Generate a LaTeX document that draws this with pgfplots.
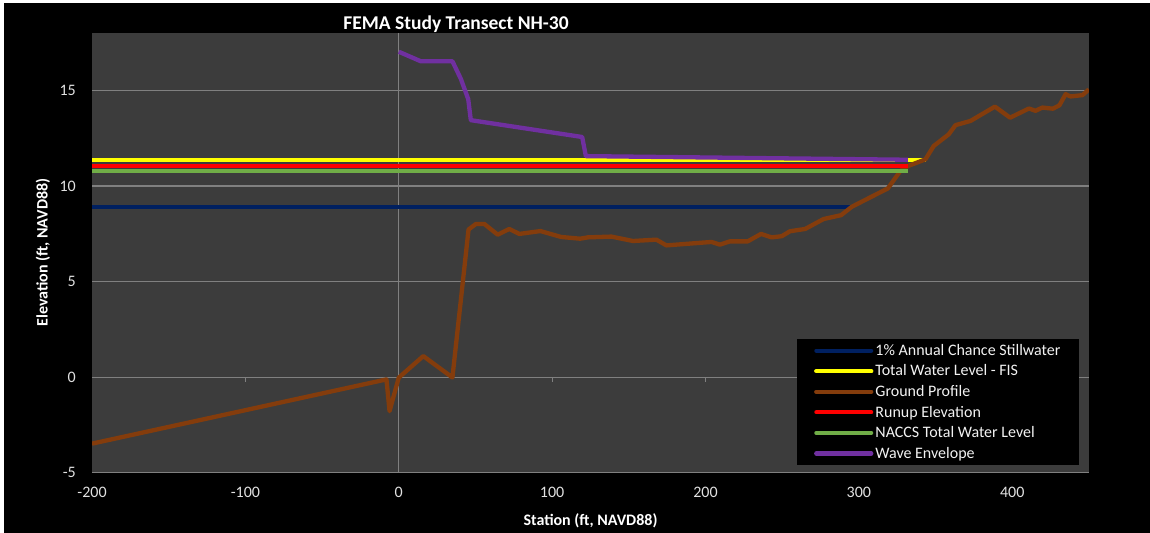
\documentclass[border=0pt]{standalone}
\usepackage{pgfplots}
\pgfplotsset{compat=1.18}
\usepackage{fontspec}
\setmainfont{Carlito}
\definecolor{plotbg}{RGB}{60,60,60}
\definecolor{gridc}{RGB}{128,128,128}
\definecolor{swc}{RGB}{0,32,96}
\definecolor{twl}{RGB}{255,255,0}
\definecolor{ground}{RGB}{132,60,12}
\definecolor{runup}{RGB}{255,0,0}
\definecolor{naccs}{RGB}{112,173,71}
\definecolor{wave}{RGB}{112,48,160}
\definecolor{ticktext}{RGB}{225,225,225}
\begin{document}
\begin{tikzpicture}
\fill[white] (0bp,0bp) rectangle (1150bp,533bp);
\fill[black] (4bp,0bp) rectangle (1150bp,530bp);
\begin{axis}[
  at={(92bp,60.3bp)}, anchor=south west,
  scale only axis, width=997bp, height=439.7bp,
  xmin=-200, xmax=450, ymin=-5, ymax=18,
  xtick={-200,-100,...,400}, ytick={-5,0,...,15},
  axis background/.style={fill=plotbg},
  axis line style={draw=none},
  major tick length=0pt,
  ymajorgrids, grid style={gridc, line width=1.2bp},
  /pgf/number format/assume math mode=true,
  ticklabel style={font=\fontsize{16bp}{19bp}\selectfont, text=ticktext, inner sep=0pt},
  xticklabel style={anchor=center, yshift=-19.3bp},
  yticklabel style={anchor=east, xshift=-16bp},
  no markers,
  legend cell align=left,
  legend style={at={(0.7071,0.304)}, anchor=north west, fill=black, draw=none,
    text=white!95!black, font=\fontsize{16bp}{19bp}\selectfont,
    inner xsep=17bp, inner ysep=3bp, row sep=4bp},
  legend image code/.code={\draw[#1, line cap=round] (0bp,0bp) -- (55bp,0bp);},
]
\draw[gridc, line width=1bp] (axis cs:0,-5) -- (axis cs:0,18);
\pgfplotsinvokeforeach{-100,100,200,300,400}{\draw[gridc, line width=1.2bp] (axis cs:#1,0) -- ++(0bp,-5bp);}
\addplot[swc, line width=4bp] coordinates {(-200,8.9) (294,8.9)};
\addlegendentry{1\% Annual Chance Stillwater}
\addplot[twl, line width=4.3bp] coordinates {(-200,11.34) (344,11.34)};
\addlegendentry{Total Water Level - FIS}
\addplot[ground, line width=4.3bp, line join=round] coordinates {
(-200,-3.48) (-8,-0.12) (-6,-1.78) (0,-0.03) (16,1.1) (35,-0.02) (45.5,7.72) (50.3,8.01)
(55.8,8.01) (64.5,7.45) (72.1,7.75) (78.6,7.49) (92.4,7.64) (105.9,7.33) (118.3,7.24)
(123.3,7.31) (138.6,7.35) (152.7,7.12) (168,7.19) (174.5,6.89) (203.9,7.07) (209.4,6.93)
(215.9,7.1) (227.5,7.1) (236.2,7.49) (243.1,7.31) (249.7,7.37) (255.1,7.63) (265,7.75)
(277,8.27) (288.4,8.47) (295.4,8.91) (318.9,9.87) (327,10.78) (332,11.04) (343.4,11.39)
(348.8,12.09) (358.6,12.7) (363,13.18) (372.8,13.4) (388.7,14.15) (398.6,13.57) (410.9,14.05)
(415.2,13.93) (419.6,14.1) (426.5,14.04) (430.8,14.22) (434.8,14.8) (438,14.68) (445.8,14.75)
(450,15.05)};
\addlegendentry{Ground Profile}
\addplot[runup, line width=4bp] coordinates {(-200,11.06) (332,11.06)};
\addlegendentry{Runup Elevation}
\addplot[naccs, line width=4bp] coordinates {(-200,10.8) (332,10.8)};
\addlegendentry{NACCS Total Water Level}
\addplot[wave, line width=4.3bp, line join=round] coordinates {
(0,17.02) (14.4,16.52) (35,16.52) (40.5,15.6) (45.3,14.54) (47,13.44) (119.6,12.56)
(122,11.56) (332,11.37)};
\addlegendentry{Wave Envelope}
\end{axis}
\node[anchor=base, font=\bfseries\fontsize{19.5bp}{23bp}\selectfont, text=white] at (456bp,503.7bp) {FEMA Study Transect NH-30};
\node[font=\bfseries\fontsize{16bp}{19bp}\selectfont, text=white] at (590.5bp,12bp) {Station (ft, NAVD88)};
\node[rotate=90, font=\bfseries\fontsize{16bp}{19bp}\selectfont, text=white] at (43bp,280.5bp) {Elevation (ft, NAVD88)};
\pgfresetboundingbox
\path (0bp,0bp) rectangle (1150bp,533bp);
\end{tikzpicture}
\end{document}
